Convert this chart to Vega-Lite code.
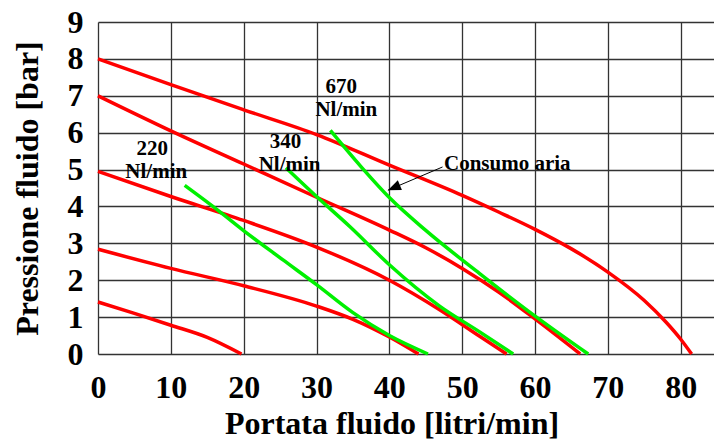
{
  "$schema": "https://vega.github.io/schema/vega-lite/v6.json",
  "width": 616,
  "height": 332,
  "autosize": {"type": "none"},
  "padding": {"left": 98, "top": 22, "right": 0, "bottom": 85},
  "config": {"view": {"stroke": null}, "font": "Liberation Serif"},
  "datasets": {
    "curves": [
      {"c": "R1", "kind": "pompa", "x": 0, "y": 8}, {"c": "R1", "kind": "pompa", "x": 10, "y": 7.3}, {"c": "R1", "kind": "pompa", "x": 20, "y": 6.62}, {"c": "R1", "kind": "pompa", "x": 30, "y": 5.95}, {"c": "R1", "kind": "pompa", "x": 40, "y": 5.12}, {"c": "R1", "kind": "pompa", "x": 50, "y": 4.3}, {"c": "R1", "kind": "pompa", "x": 55, "y": 3.85}, {"c": "R1", "kind": "pompa", "x": 60, "y": 3.38}, {"c": "R1", "kind": "pompa", "x": 65, "y": 2.85}, {"c": "R1", "kind": "pompa", "x": 70, "y": 2.22}, {"c": "R1", "kind": "pompa", "x": 75, "y": 1.45}, {"c": "R1", "kind": "pompa", "x": 78, "y": 0.86}, {"c": "R1", "kind": "pompa", "x": 80, "y": 0.4}, {"c": "R1", "kind": "pompa", "x": 81.5, "y": 0},
      {"c": "R2", "kind": "pompa", "x": 0, "y": 7}, {"c": "R2", "kind": "pompa", "x": 10, "y": 6.05}, {"c": "R2", "kind": "pompa", "x": 20, "y": 5.15}, {"c": "R2", "kind": "pompa", "x": 30, "y": 4.25}, {"c": "R2", "kind": "pompa", "x": 40, "y": 3.36}, {"c": "R2", "kind": "pompa", "x": 45, "y": 2.88}, {"c": "R2", "kind": "pompa", "x": 50, "y": 2.32}, {"c": "R2", "kind": "pompa", "x": 55, "y": 1.68}, {"c": "R2", "kind": "pompa", "x": 60, "y": 0.95}, {"c": "R2", "kind": "pompa", "x": 66.2, "y": 0},
      {"c": "R3", "kind": "pompa", "x": 0, "y": 4.95}, {"c": "R3", "kind": "pompa", "x": 10, "y": 4.27}, {"c": "R3", "kind": "pompa", "x": 20, "y": 3.62}, {"c": "R3", "kind": "pompa", "x": 30, "y": 2.9}, {"c": "R3", "kind": "pompa", "x": 40, "y": 2.0}, {"c": "R3", "kind": "pompa", "x": 46.9, "y": 1.2}, {"c": "R3", "kind": "pompa", "x": 52.4, "y": 0.48}, {"c": "R3", "kind": "pompa", "x": 56.1, "y": 0},
      {"c": "R4", "kind": "pompa", "x": 0, "y": 2.84}, {"c": "R4", "kind": "pompa", "x": 10, "y": 2.32}, {"c": "R4", "kind": "pompa", "x": 20, "y": 1.85}, {"c": "R4", "kind": "pompa", "x": 30, "y": 1.3}, {"c": "R4", "kind": "pompa", "x": 35, "y": 0.94}, {"c": "R4", "kind": "pompa", "x": 40, "y": 0.46}, {"c": "R4", "kind": "pompa", "x": 44, "y": 0},
      {"c": "R5", "kind": "pompa", "x": 0, "y": 1.41}, {"c": "R5", "kind": "pompa", "x": 5, "y": 1.1}, {"c": "R5", "kind": "pompa", "x": 10, "y": 0.78}, {"c": "R5", "kind": "pompa", "x": 15, "y": 0.45}, {"c": "R5", "kind": "pompa", "x": 19.7, "y": 0},
      {"c": "G1", "kind": "aria", "x": 11.9, "y": 4.57}, {"c": "G1", "kind": "aria", "x": 16.7, "y": 3.86}, {"c": "G1", "kind": "aria", "x": 19.9, "y": 3.36}, {"c": "G1", "kind": "aria", "x": 25.4, "y": 2.55}, {"c": "G1", "kind": "aria", "x": 30, "y": 1.88}, {"c": "G1", "kind": "aria", "x": 35, "y": 1.12}, {"c": "G1", "kind": "aria", "x": 40, "y": 0.5}, {"c": "G1", "kind": "aria", "x": 45.3, "y": 0},
      {"c": "G2", "kind": "aria", "x": 25.8, "y": 5.05}, {"c": "G2", "kind": "aria", "x": 30, "y": 4.27}, {"c": "G2", "kind": "aria", "x": 34.6, "y": 3.45}, {"c": "G2", "kind": "aria", "x": 40, "y": 2.42}, {"c": "G2", "kind": "aria", "x": 46.9, "y": 1.3}, {"c": "G2", "kind": "aria", "x": 52.4, "y": 0.6}, {"c": "G2", "kind": "aria", "x": 57, "y": 0},
      {"c": "G3", "kind": "aria", "x": 31.9, "y": 6.06}, {"c": "G3", "kind": "aria", "x": 36.1, "y": 5.08}, {"c": "G3", "kind": "aria", "x": 40.1, "y": 4.22}, {"c": "G3", "kind": "aria", "x": 45, "y": 3.35}, {"c": "G3", "kind": "aria", "x": 52.4, "y": 2.18}, {"c": "G3", "kind": "aria", "x": 60.2, "y": 1.0}, {"c": "G3", "kind": "aria", "x": 67.3, "y": 0}
    ],
    "labels": [
      {"t": "670", "x": 33.4, "y": 7.08}, {"t": "Nl/min", "x": 34.1, "y": 6.44},
      {"t": "340", "x": 25.75, "y": 5.58}, {"t": "Nl/min", "x": 26.3, "y": 4.95},
      {"t": "220", "x": 7.45, "y": 5.4}, {"t": "Nl/min", "x": 8.0, "y": 4.77}
    ],
    "note": [{"t": "Consumo aria", "x": 47.5, "y": 4.99}],
    "arrow": [{"x": 47.3, "y": 5.07, "x2": 39.8, "y2": 4.44}],
    "tip": [{"x": 39.8, "y": 4.44}]
  },
  "encoding": {
    "x": {
      "field": "x", "type": "quantitative",
      "scale": {"domain": [0, 84.57], "nice": false, "zero": false},
      "axis": {
        "values": [0, 10, 20, 30, 40, 50, 60, 70, 80],
        "title": "Portata fluido [litri/min]",
        "grid": true, "gridColor": "#333", "gridWidth": 1.3, "gridOpacity": 1,
        "domain": false, "ticks": false,
        "labelFont": "Liberation Serif", "labelFontSize": 32, "labelFontWeight": "bold", "labelColor": "black",
        "labelPadding": 18, "labelFlush": false, "labelOverlap": false,
        "titleFont": "Liberation Serif", "titleFontSize": 32, "titleFontWeight": "bold", "titleColor": "black",
        "titleX": 293.5, "titleY": 79, "titleBaseline": "alphabetic", "titleAlign": "center"
      }
    },
    "y": {
      "field": "y", "type": "quantitative",
      "scale": {"domain": [0, 9], "nice": false},
      "axis": {
        "values": [0, 1, 2, 3, 4, 5, 6, 7, 8, 9],
        "title": "Pressione fluido [bar]",
        "grid": true, "gridColor": "#333", "gridWidth": 1.3, "gridOpacity": 1,
        "domain": false, "ticks": false,
        "labelFont": "Liberation Serif", "labelFontSize": 32, "labelFontWeight": "bold", "labelColor": "black",
        "labelPadding": 15, "labelOverlap": false, "labelFlush": false,
        "titleFont": "Liberation Serif", "titleFontSize": 32, "titleFontWeight": "bold", "titleColor": "black",
        "titleX": -61, "titleY": 166, "titleBaseline": "alphabetic", "titleAlign": "center", "titleAngle": 270
      }
    }
  },
  "layer": [
    {
      "data": {"name": "curves"},
      "mark": {"type": "line", "strokeWidth": 3.5, "interpolate": "monotone"},
      "encoding": {
        "detail": {"field": "c"},
        "color": {"field": "kind", "type": "nominal", "scale": {"domain": ["pompa", "aria"], "range": ["#ff0000", "#00f000"]}, "legend": null},
        "order": {"field": "x", "type": "quantitative"}
      }
    },
    {
      "data": {"name": "labels"},
      "mark": {"type": "text", "font": "Liberation Serif", "fontSize": 21, "fontWeight": "bold", "align": "center", "baseline": "alphabetic", "color": "black"},
      "encoding": {"text": {"field": "t"}}
    },
    {
      "data": {"name": "note"},
      "mark": {"type": "text", "font": "Liberation Serif", "fontSize": 21, "fontWeight": "bold", "align": "left", "baseline": "alphabetic", "color": "black"},
      "encoding": {"text": {"field": "t"}}
    },
    {
      "data": {"name": "arrow"},
      "mark": {"type": "rule", "color": "black", "strokeWidth": 1},
      "encoding": {
        "x2": {"field": "x2"},
        "y2": {"field": "y2"}
      }
    },
    {
      "data": {"name": "tip"},
      "mark": {"type": "point", "shape": "M0,0L-0.4,1L0.4,1Z", "filled": true, "color": "black", "opacity": 1, "size": 676, "angle": 247},
      "encoding": {}
    }
  ]
}
